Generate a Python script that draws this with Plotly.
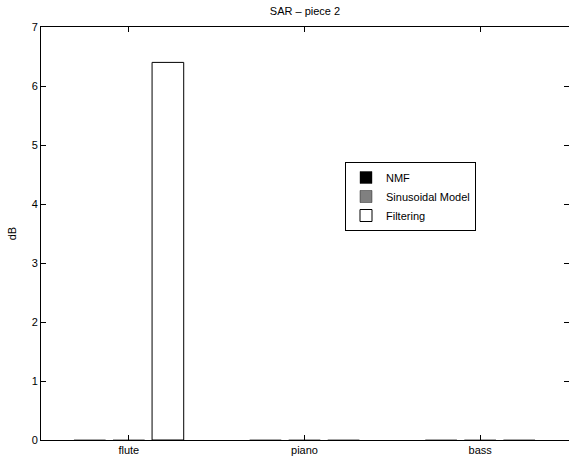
import plotly.graph_objects as go

categories = ["flute", "piano", "bass"]
nmf = [0.0, 0.0, 0.0]
sinusoidal = [0.0, 0.0, 0.0]
filtering = [6.4, 0.0, 0.0]
series_names = ["NMF", "Sinusoidal Model", "Filtering"]
y_ticks = [0, 1, 2, 3, 4, 5, 6, 7]

x_pos = [1, 2, 3]
colors = ["#000000", "#808080", "#ffffff"]

fig = go.Figure()
for name, vals, col in zip(series_names, [nmf, sinusoidal, filtering], colors):
    fig.add_trace(go.Bar(
        x=x_pos, y=vals, name=name,
        marker=dict(color=col, line=dict(
            color="#000000", width=[1 if v > 0 else 0.4 for v in vals])),
    ))

W, H = 569, 461
L, R, T, B = 41, 0, 27, 21
pw = W - L - R
ph = H - T - B

fig.update_layout(
    width=W, height=H,
    margin=dict(l=L, r=R, t=T, b=B, pad=0),
    paper_bgcolor="white", plot_bgcolor="white",
    barmode="group", bargap=0.333, bargroupgap=0.19,
    font=dict(family="Liberation Sans, Arial, sans-serif", size=11, color="#000000"),
    title=dict(text="SAR – piece 2", x=(L + pw / 2) / W, xanchor="center",
               y=1 - 11 / H, yanchor="middle", font=dict(size=11)),
    showlegend=True,
    legend=dict(
        x=(345 - L) / pw, y=(440 - 162) / ph, xanchor="left", yanchor="top",
        bgcolor="white", bordercolor="#000000", borderwidth=1,
        font=dict(size=11), tracegroupgap=0, itemwidth=30,
    ),
    xaxis=dict(
        range=[0.5, 3.5 + 1 / 176.0], tickvals=x_pos, ticktext=categories,
        showgrid=False, zeroline=False, showline=True, linecolor="#000000",
        linewidth=1, mirror="ticks", ticks="inside", ticklen=5, tickcolor="#000000",
        tickfont=dict(size=11),
    ),
    yaxis=dict(
        range=[0, 7], tickvals=y_ticks, showgrid=False, zeroline=False,
        showline=True, linecolor="#000000", linewidth=1, mirror="ticks",
        ticks="inside", ticklen=5, tickcolor="#000000", tickfont=dict(size=11),
        title=dict(text="dB", standoff=12, font=dict(size=11)),
    ),
)

fig.write_html(
    "out.html",
    config={"displayModeBar": False},
    post_script="document.body.style.margin='0';document.body.style.overflow='hidden';",
)
